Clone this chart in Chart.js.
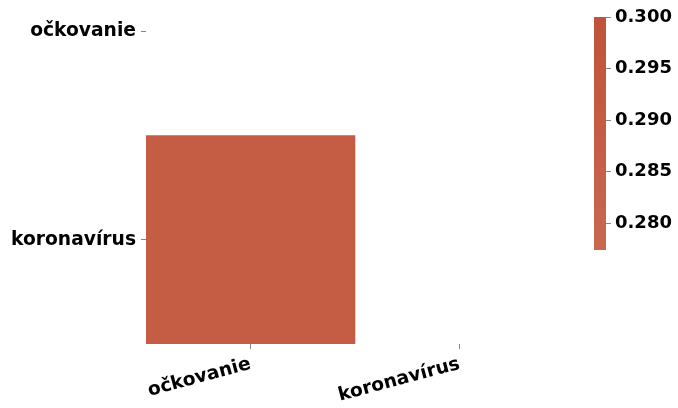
<!DOCTYPE html>
<html>
<head>
<meta charset="utf-8">
<script src="https://cdn.jsdelivr.net/npm/chart.js@4/dist/chart.umd.min.js"></script>
<style>
  html, body { margin: 0; padding: 0; background: #fff; }
  #wrap { position: relative; width: 678px; height: 408px; overflow: hidden; }
  #heat { position: absolute; left: 0; top: 0; }
  #cbar { position: absolute; left: 560px; top: 0; }
</style>
</head>
<body>
<div id="wrap">
  <canvas id="heat" width="678" height="408"></canvas>
  <canvas id="cbar" width="118" height="408"></canvas>
</div>
<script>
// kategórie (stĺpce aj riadky)
const columns = ["očkovanie", "koronavírus"];
const rows = ["očkovanie", "koronavírus"];
// korelácie, horný trojuholník je maskovaný (null)
const values = [
  [null, null],
  [0.2887, null]
];
// rozsah a popisky farebnej škály
const cbarRange = [0.27738, 0.300];
const cbarTicks = [0.280, 0.285, 0.290, 0.295, 0.300];
const cbarColors = ["#c9674f", "#c0533a"];

const FONT = { family: "'DejaVu Sans', sans-serif", size: 18.7, weight: "bold" };
const CBAR_FONT = { family: "'DejaVu Sans', sans-serif", size: 18, weight: "bold" };

function hexToRgb(h) {
  const n = parseInt(h.slice(1), 16);
  return [(n >> 16) & 255, (n >> 8) & 255, n & 255];
}
function colorFor(v) {
  const t = (v - cbarRange[0]) / (cbarRange[1] - cbarRange[0]);
  const a = hexToRgb(cbarColors[0]), b = hexToRgb(cbarColors[1]);
  const c = a.map((x, i) => Math.round(x + (b[i] - x) * t));
  return `rgb(${c[0]},${c[1]},${c[2]})`;
}

// jeden dataset na riadok, plávajúce stĺpce [i-0.5, i+0.5]
const datasets = rows.map((r, i) => ({
  label: r,
  data: columns.map((c, j) => values[i][j] == null ? null : [i - 0.5, i + 0.5]),
  backgroundColor: columns.map((c, j) => values[i][j] == null ? "rgba(0,0,0,0)" : colorFor(values[i][j])),
  borderWidth: 0,
  barPercentage: 1,
  categoryPercentage: 1,
  grouped: false
}));

new Chart(document.getElementById("heat").getContext("2d"), {
  type: "bar",
  data: { labels: columns, datasets: datasets },
  options: {
    responsive: false,
    animation: false,
    layout: { padding: { top: 0, right: 114, left: 0, bottom: 0 } },
    plugins: { legend: { display: false }, tooltip: { enabled: false } },
    scales: {
      x: {
        type: "category",
        offset: true,
        grid: { drawOnChartArea: false, drawTicks: true, tickLength: 5, offset: false, color: "#666", lineWidth: 0.8 },
        border: { display: false },
        ticks: { font: FONT, color: "#000", minRotation: 15, maxRotation: 15, autoSkip: false, padding: 4 },
        afterFit: s => { s.height = 64; s.paddingLeft = 0; s.paddingRight = 0; }
      },
      y: {
        type: "linear",
        reverse: true,
        min: -0.15,
        max: 1.5,
        grid: { drawOnChartArea: false, drawTicks: true, tickLength: 5, color: "#666", lineWidth: 0.8 },
        border: { display: false },
        ticks: { font: FONT, color: "#000", padding: 5, callback: v => rows[v] },
        afterBuildTicks: s => { s.ticks = rows.map((r, i) => ({ value: i })); },
        afterFit: s => { s.width = 146; s.paddingTop = 0; s.paddingBottom = 0; }
      }
    }
  }
});

// farebná škála
new Chart(document.getElementById("cbar").getContext("2d"), {
  type: "bar",
  data: {
    labels: [""],
    datasets: [{
      data: [cbarRange],
      borderWidth: 0,
      barPercentage: 1,
      categoryPercentage: 1,
      backgroundColor: ctx => {
        const area = ctx.chart.chartArea;
        if (!area) return cbarColors[0];
        const g = ctx.chart.ctx.createLinearGradient(0, area.bottom, 0, area.top);
        g.addColorStop(0, cbarColors[0]);
        g.addColorStop(1, cbarColors[1]);
        return g;
      }
    }]
  },
  options: {
    responsive: false,
    animation: false,
    layout: { padding: { top: 17, bottom: 158, left: 34, right: 0 } },
    plugins: { legend: { display: false }, tooltip: { enabled: false } },
    scales: {
      x: { display: false },
      y: {
        position: "right",
        min: cbarRange[0],
        max: cbarRange[1],
        grid: { drawOnChartArea: false, drawTicks: true, tickLength: 5, color: "#666", lineWidth: 0.8 },
        border: { display: false },
        ticks: { font: CBAR_FONT, color: "#000", padding: 4, callback: v => v.toFixed(3) },
        afterBuildTicks: s => { s.ticks = cbarTicks.map(v => ({ value: v })); },
        afterFit: s => { s.width = 72; }
      }
    }
  }
});
</script>
</body>
</html>
